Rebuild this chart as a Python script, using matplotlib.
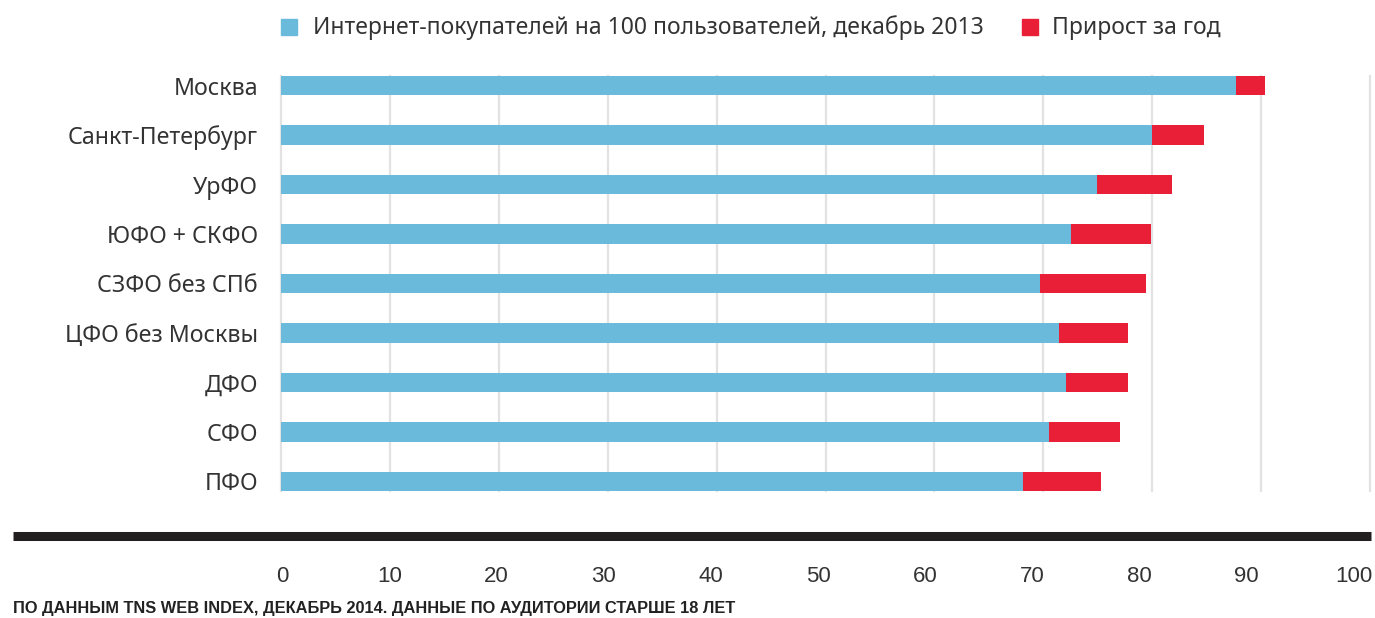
import matplotlib
matplotlib.use("Agg")
import matplotlib.pyplot as plt
from matplotlib.patches import Rectangle
from matplotlib.lines import Line2D

categories = ["Москва", "Санкт-Петербург", "УрФО", "ЮФО + СКФО", "СЗФО без СПб",
              "ЦФО без Москвы", "ДФО", "СФО", "ПФО"]
buyers_2013 = [87.7, 80.0, 74.9, 72.5, 69.7, 71.4, 72.1, 70.5, 68.1]
growth = [2.7, 4.8, 6.9, 7.4, 9.7, 6.4, 5.7, 6.5, 7.2]
tick_values = [0, 10, 20, 30, 40, 50, 60, 70, 80, 90, 100]
legend_labels = ["Интернет-покупателей на 100 пользователей, декабрь 2013", "Прирост за год"]
footer = "ПО ДАННЫМ TNS WEB INDEX, ДЕКАБРЬ 2014. ДАННЫЕ ПО АУДИТОРИИ СТАРШЕ 18 ЛЕТ"

BLUE = "#6abadc"
RED = "#e91f37"
TEXT = "#333333"
W, H = 1375, 618

plt.rcParams['font.family'] = ['Noto Sans', 'DejaVu Sans']

fig = plt.figure(figsize=(W / 100, H / 100), dpi=100)

def fx(px):
    return px / W

def fy(py):
    return 1 - py / H

# main axes
bar_h = 0.384
ax = fig.add_axes([fx(281), fy(491), fx(1370) - fx(281), fy(76) - fy(491)])
ypos = list(range(len(categories)))
ax.barh(ypos, buyers_2013, height=bar_h, color=BLUE, zorder=2)
ax.barh(ypos, growth, left=buyers_2013, height=bar_h, color=RED, zorder=2)
ax.set_xlim(0, 100)
ax.set_ylim(len(categories) - 1 + bar_h / 2, -bar_h / 2)
ax.set_xticks(tick_values)
ax.xaxis.grid(True, color="#e2e2e2", linewidth=1.6, zorder=0)
for gl in ax.get_xgridlines():
    gl.set_clip_on(False)
ax.set_axisbelow(True)
for s in ax.spines.values():
    s.set_visible(False)
ax.tick_params(axis='x', length=0, labelbottom=False)
ax.tick_params(axis='y', length=0, pad=16.5)
ax.set_yticks(ypos)
ax.set_yticklabels(categories, fontsize=16.7, color=TEXT)

# thick black rule
fig.add_artist(Line2D([fx(13), fx(1371)], [fy(535.5), fy(535.5)], transform=fig.transFigure,
                      color="#231f20", linewidth=6.5, solid_capstyle='butt'))

# tick labels axis
lab = fig.add_axes([fx(282), fy(576), fx(1354) - fx(282), 0.001])
lab.set_xlim(0, 100)
lab.set_xticks(tick_values)
lab.set_xticklabels([str(v) for v in tick_values], fontsize=16, color=TEXT,
                    family=['Liberation Sans Narrow', 'Liberation Sans', 'DejaVu Sans'])
lab.tick_params(axis='x', length=0, pad=0)
lab.set_yticks([])
for s in lab.spines.values():
    s.set_visible(False)
lab.patch.set_visible(False)
for t in lab.get_xticklabels():
    t.set_verticalalignment('center')

# legend
sq = 16
fig.add_artist(Rectangle((fx(281), fy(19 + sq)), fx(sq), sq / H, transform=fig.transFigure,
                         color=BLUE))
fig.text(fx(313), fy(28), legend_labels[0], fontsize=16.5, color=TEXT, va='center', ha='left')
fig.add_artist(Rectangle((fx(1022), fy(19 + sq)), fx(sq), sq / H, transform=fig.transFigure,
                         color=RED))
fig.text(fx(1052), fy(28), legend_labels[1], fontsize=16.5, color=TEXT, va='center', ha='left')

# footer
fig.text(fx(13), fy(609), footer, fontsize=11.8, fontweight='bold', color="#222222",
         va='center', ha='left', family=['Liberation Sans Narrow', 'Liberation Sans', 'DejaVu Sans'])

fig.savefig("out.png", dpi=100, facecolor="white")
